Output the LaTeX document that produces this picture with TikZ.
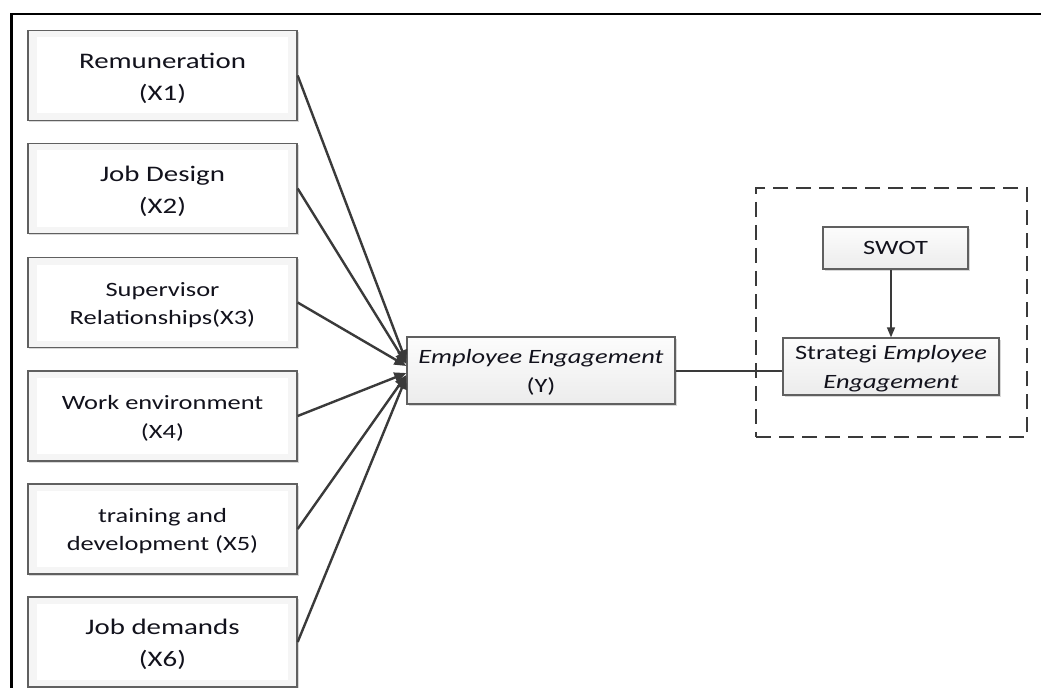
\documentclass[tikz,border=0pt]{standalone}
\usepackage{fontspec}
\setmainfont{Carlito}[FakeStretch=1.3]
\usetikzlibrary{arrows.meta,shadows}
\definecolor{txt}{RGB}{18,18,28}
\definecolor{edgec}{RGB}{96,96,96}
\definecolor{connc}{RGB}{58,58,58}
\newcommand\bigup{\rule{0pt}{20.5bp}}
\newcommand\smallup{\rule{0pt}{18.5bp}}
\begin{document}
\begin{tikzpicture}[x=1bp,y=-1bp,
 factor/.style={draw=edgec, line width=1.3bp, fill=gray!8, minimum width=269bp, minimum height=90bp,
   inner sep=0pt, align=center, text=txt,
   drop shadow={shadow xshift=1.5bp, shadow yshift=-1.5bp, opacity=0.3},
   path picture={\fill[white] ([shift={(9bp,-7bp)}]path picture bounding box.north west) rectangle ([shift={(-9bp,7bp)}]path picture bounding box.south east);}},
 bigtxt/.style={font=\fontsize{22.3}{32}\selectfont},
 smalltxt/.style={font=\fontsize{20.4}{28}\selectfont},
 grad/.style={draw=edgec, line width=1.3bp, top color=gray!2, bottom color=gray!15, inner sep=0pt,
   align=center, text=txt, font=\fontsize{20.4}{29}\selectfont,
   drop shadow={shadow xshift=1.5bp, shadow yshift=-1.5bp, opacity=0.3}},
 conn/.style={draw=connc, line width=2.4bp, -{Triangle[length=12bp,width=10bp]}},
 plain/.style={draw=connc, line width=2bp},
 thinarrow/.style={draw=connc, line width=1.4bp, -{Triangle[length=10bp,width=8bp]}},
 dashbox/.style={draw=connc, line width=2.4bp, dash pattern=on 15bp off 8bp, inner sep=0pt},
]
\useasboundingbox[fill=white] (0,0) rectangle (1041,688);
% outer frame (top and left edges visible)
\draw[line width=2.3bp] (11.5,688) -- (11.5,14) -- (1041,14);

% factor boxes
\node[factor,bigtxt] (x1) at (162.5,75.5) {\bigup Remuneration\\(X1)};
\node[factor,bigtxt] (x2) at (162.5,188.5) {\bigup Job Design\\(X2)};
\node[factor,smalltxt] (x3) at (162.5,302.5) {\smallup Supervisor\\Relationships(X3)};
\node[factor,font=\fontsize{20.4}{29}\selectfont] (x4) at (162.5,416) {\smallup Work environment\\(X4)};
\node[factor,smalltxt] (x5) at (162.5,529) {\smallup training and\\development (X5)};
\node[factor,bigtxt] (x6) at (162.5,642) {\bigup Job demands\\(X6)};

% dependent variable
\node[grad, minimum width=268bp, minimum height=67bp] (y) at (541,370.5) {\smallup\textit{Employee Engagement}\\(Y)};

% strategy group
\node[dashbox, minimum width=271bp, minimum height=249bp] (grp) at (891.5,312.5) {};
\node[grad, minimum width=145bp, minimum height=42bp] (swot) at (895.5,248) {SWOT};
\node[grad, minimum width=216bp, minimum height=57bp] (strat) at (891,366.5) {\smallup Strategi \textit{Employee}\\\textit{Engagement}};

% connectors
\draw[conn] (x1.east) -- ([yshift=8.5bp]y.west);
\draw[conn] (x2.east) -- ([yshift=6.5bp]y.west);
\draw[conn] (x3.east) -- ([yshift=4.5bp]y.west);
\draw[conn] (x4.east) -- ([yshift=-2.5bp]y.west);
\draw[conn] (x5.east) -- ([yshift=-4.5bp]y.west);
\draw[conn] (x6.east) -- ([yshift=-6.5bp]y.west);
\draw[plain] (y.east) -- (y.east -| strat.west);
\draw[thinarrow] (strat.north |- swot.south) -- (strat.north);
\end{tikzpicture}
\end{document}
